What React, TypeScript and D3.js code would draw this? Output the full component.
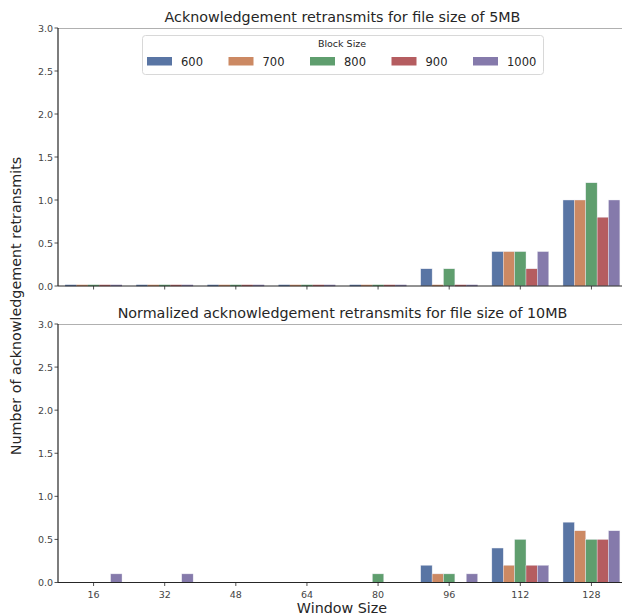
import React from "react";
import * as d3 from "d3";

const windowSizes = ["16", "32", "48", "64", "80", "96", "112", "128"];
const blockSizes = ["600", "700", "800", "900", "1000"];
const blockColors = ["#5975a4", "#cc8963", "#5f9e6e", "#b55d60", "#857aab"];
const yTicks = [0, 0.5, 1, 1.5, 2, 2.5, 3];

// Retransmits per block size, one value per window size (5MB file)
const retrans5MB: (number | null)[][] = [
  [0, 0, 0, 0, 0, 0.2, 0.4, 1.0],
  [0, 0, 0, 0, 0, 0, 0.4, 1.0],
  [0, 0, 0, 0, 0, 0.2, 0.4, 1.2],
  [0, 0, 0, 0, 0, 0, 0.2, 0.8],
  [0, 0, 0, 0, 0, 0, 0.4, 1.0],
];

// Normalized retransmits per block size (10MB file); null = no bar
const retrans10MB: (number | null)[][] = [
  [null, null, null, null, null, 0.2, 0.4, 0.7],
  [null, null, null, null, null, 0.1, 0.2, 0.6],
  [null, null, null, null, 0.1, 0.1, 0.5, 0.5],
  [null, null, null, null, null, null, 0.2, 0.5],
  [0.1, 0.1, null, null, null, 0.1, 0.2, 0.6],
];

const W = 622;
const H = 616;
const left = 58;
const right = 627;
const font = "DejaVu Sans, sans-serif";
const labelSize = 14.3;

const x = d3.scaleBand<string>().domain(windowSizes).range([left, right]).padding(0);
const hue = d3
  .scaleBand<string>()
  .domain(blockSizes)
  .range([x.bandwidth() * 0.1, x.bandwidth() * 0.9])
  .padding(0);

function Panel({
  top,
  bottom,
  title,
  data,
  showXLabels,
}: {
  top: number;
  bottom: number;
  title: string;
  data: (number | null)[][];
  showXLabels: boolean;
}) {
  const y = d3.scaleLinear().domain([0, 3]).range([bottom, top]);
  return (
    <g>
      <text x={(left + right) / 2} y={top - 6.5} textAnchor="middle" fontSize={labelSize} fill="#262626" fontFamily={font}>
        {title}
      </text>
      <line x1={left} x2={W} y1={top + 0.5} y2={top + 0.5} stroke="#b0b0b0" strokeWidth={1.2} />
      {data.map((series, si) =>
        series.map((v, ci) => {
          if (v === null) return null;
          const bx = (x(windowSizes[ci]) as number) + (hue(blockSizes[si]) as number);
          const bw = hue.bandwidth();
          if (v === 0) {
            return (
              <line
                key={`${si}-${ci}`}
                x1={bx}
                x2={bx + bw}
                y1={bottom - 0.5}
                y2={bottom - 0.5}
                stroke={blockColors[si]}
                strokeWidth={1.5}
              />
            );
          }
          return (
            <rect
              key={`${si}-${ci}`}
              x={bx}
              y={y(v)}
              width={bw}
              height={bottom - y(v)}
              fill={blockColors[si]}
              stroke="#eaeaf2"
              strokeWidth={0.4}
            />
          );
        })
      )}
      <line x1={left} x2={left} y1={top} y2={bottom} stroke="#262626" strokeWidth={1.2} />
      <line x1={left} x2={W} y1={bottom} y2={bottom} stroke="#262626" strokeWidth={1.2} />
      {yTicks.map((t) => (
        <g key={t}>
          <line x1={left - 3.5} x2={left} y1={y(t)} y2={y(t)} stroke="#262626" strokeWidth={0.8} />
          <text x={left - 5} y={y(t) + 3.5} textAnchor="end" fontSize={9.5} fill="#444" fontFamily={font}>
            {t.toFixed(1)}
          </text>
        </g>
      ))}
      {windowSizes.map((w) => {
        const cx = (x(w) as number) + x.bandwidth() / 2;
        return (
          <g key={w}>
            <line x1={cx} x2={cx} y1={bottom} y2={bottom + 3.5} stroke="#262626" strokeWidth={0.8} />
            {showXLabels && (
              <text x={cx} y={bottom + 15} textAnchor="middle" fontSize={9.5} fill="#444" fontFamily={font}>
                {w}
              </text>
            )}
          </g>
        );
      })}
    </g>
  );
}

export default function App() {
  const legendX = 142;
  const legendY = 35;
  const legendStep = 81.5;
  return (
    <svg width={W} height={H} style={{ position: "absolute", left: 0, top: 0, background: "#fff" }}>
      <rect width={W} height={H} fill="#fff" />
      <Panel
        top={28}
        bottom={286}
        title="Acknowledgement retransmits for file size of 5MB"
        data={retrans5MB}
        showXLabels={false}
      />
      <Panel
        top={324}
        bottom={582.5}
        title="Normalized acknowledgement retransmits for file size of 10MB"
        data={retrans10MB}
        showXLabels={true}
      />
      <g>
        <rect
          x={legendX + 0.5}
          y={legendY + 0.5}
          width={401}
          height={39}
          rx={3}
          fill="#fff"
          fillOpacity={0.8}
          stroke="#d8d8d8"
          strokeWidth={1}
        />
        <text x={342} y={legendY + 12} textAnchor="middle" fontSize={9.5} fill="#262626" fontFamily={font}>
          Block Size
        </text>
        {blockSizes.map((b, i) => (
          <g key={b}>
            <rect x={147 + i * legendStep} y={57} width={25} height={8.5} fill={blockColors[i]} />
            <text x={181 + i * legendStep} y={65.5} fontSize={11.5} fill="#262626" fontFamily={font}>
              {b}
            </text>
          </g>
        ))}
      </g>
      <text
        transform={`translate(21,306) rotate(-90)`}
        textAnchor="middle"
        fontSize={labelSize}
        fill="#262626"
        fontFamily={font}
      >
        Number of acknowledgement retransmits
      </text>
      <text x={342} y={613} textAnchor="middle" fontSize={labelSize} fill="#262626" fontFamily={font}>
        Window Size
      </text>
    </svg>
  );
}
